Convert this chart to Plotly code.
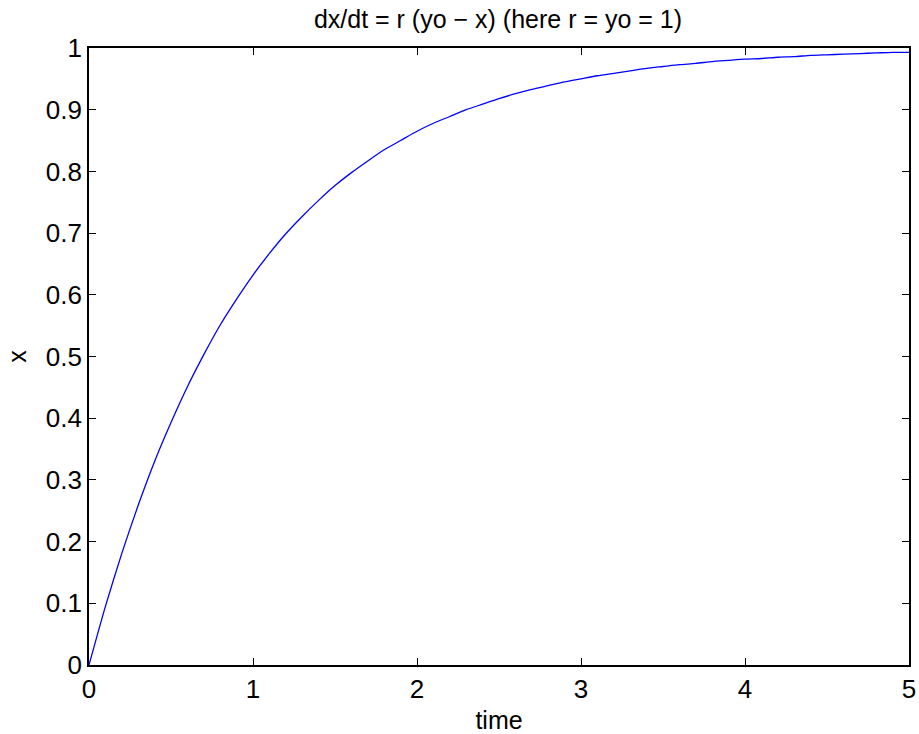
import plotly.graph_objects as go

time = [0.0, 0.1, 0.2, 0.3, 0.4, 0.5, 0.6, 0.7, 0.8, 0.9,
        1.0, 1.1, 1.2, 1.3, 1.4, 1.5, 1.6, 1.7, 1.8, 1.9,
        2.0, 2.1, 2.2, 2.3, 2.4, 2.5, 2.6, 2.7, 2.8, 2.9,
        3.0, 3.1, 3.2, 3.3, 3.4, 3.5, 3.6, 3.7, 3.8, 3.9,
        4.0, 4.1, 4.2, 4.3, 4.4, 4.5, 4.6, 4.7, 4.8, 4.9, 5.0]
x_vals = [0.000, 0.095, 0.181, 0.259, 0.330, 0.393, 0.451, 0.503, 0.551, 0.593,
          0.632, 0.667, 0.699, 0.727, 0.753, 0.777, 0.798, 0.817, 0.835, 0.850,
          0.865, 0.878, 0.889, 0.900, 0.909, 0.918, 0.926, 0.933, 0.939, 0.945,
          0.950, 0.955, 0.959, 0.963, 0.967, 0.970, 0.973, 0.975, 0.978, 0.980,
          0.982, 0.983, 0.985, 0.986, 0.988, 0.989, 0.990, 0.991, 0.992, 0.993, 0.993]

x_ticks = [0, 1, 2, 3, 4, 5]
y_ticks = [0, 0.1, 0.2, 0.3, 0.4, 0.5, 0.6, 0.7, 0.8, 0.9, 1]
y_tick_labels = ["0", "0.1", "0.2", "0.3", "0.4", "0.5", "0.6", "0.7", "0.8", "0.9", "1"]

FONT = "Liberation Sans, Arial, Helvetica, sans-serif"

fig = go.Figure()
fig.add_trace(go.Scatter(x=time, y=x_vals, mode="lines",
                         line=dict(color="#0000ff", width=1.3, shape="spline", smoothing=0.6),
                         showlegend=False))

axis_common = dict(showline=True, linecolor="black", linewidth=1.6, mirror="ticks",
                   ticks="inside", ticklen=7, tickwidth=1, tickcolor="black",
                   showgrid=False, zeroline=False, automargin=False,
                   tickfont=dict(family=FONT, size=26, color="black"))

fig.update_layout(
    width=919, height=734,
    paper_bgcolor="white", plot_bgcolor="white",
    margin=dict(l=89, r=10, t=48, b=69, autoexpand=False),
    font=dict(family=FONT, color="black"),
    title=dict(text="dx/dt = r (yo \u2212 x) (here r = yo = 1)",
               x=498 / 919, xanchor="center", y=1 - 19 / 734, yanchor="middle",
               font=dict(size=25, color="black")),
    xaxis=dict(range=[0, 5], tickvals=x_ticks, ticktext=[str(t) for t in x_ticks],
               title=dict(text="time", font=dict(size=25), standoff=8), **axis_common),
    yaxis=dict(range=[0, 1], tickvals=y_ticks, ticktext=y_tick_labels,
               title=dict(text="x", font=dict(size=25), standoff=12), **axis_common),
)

fig.write_html("out.html", config={"displayModeBar": False},
               post_script="document.body.style.margin='0';")
